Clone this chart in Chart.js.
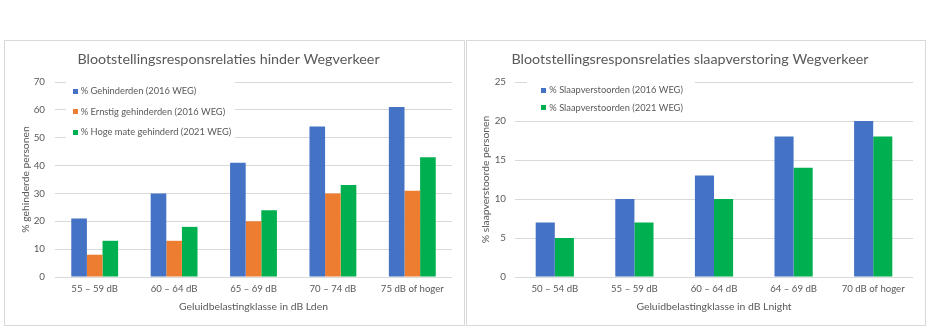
<!DOCTYPE html>
<html><head><meta charset="utf-8">
<script src="https://cdn.jsdelivr.net/npm/chart.js@4.4.0/dist/chart.umd.min.js"></script>
<style>
html,body{margin:0;padding:0;background:#fff;}
.box{position:absolute;border:1px solid #D9D9D9;background:#fff;}
#b1{left:4px;top:40px;width:459px;height:284px;}
#b2{left:466px;top:40px;width:458px;height:284px;}
canvas{display:block;}
</style></head><body>
<div class="box" id="b1"><canvas id="c1" width="459" height="284"></canvas></div>
<div class="box" id="b2"><canvas id="c2" width="458" height="284"></canvas></div>
<script>
// ---- Data ----
const hinderCategories = ['55 – 59 dB', '60 – 64 dB', '65 – 69 dB', '70 – 74 dB', '75 dB of hoger'];
const gehinderden2016 = [21, 30, 41, 54, 61];
const ernstigGehinderden2016 = [8, 13, 20, 30, 31];
const hogeMateGehinderd2021 = [13, 18, 24, 33, 43];
const hinderYMax = 70;
const hinderYStep = 10;

const slaapCategories = ['50 – 54 dB', '55 – 59 dB', '60 – 64 dB', '64 – 69 dB', '70 dB of hoger'];
const slaapverstoorden2016 = [7, 10, 13, 18, 20];
const slaapverstoorden2021 = [5, 7, 10, 14, 18];
const slaapYMax = 25;
const slaapYStep = 5;

const BLUE = '#4472C4', ORANGE = '#ED7D31', GREEN = '#00B050';
const TEXT = '#595959', GRID = '#D9D9D9';
const FONT = 'Lato, "Open Sans", sans-serif';

Chart.defaults.font.family = FONT;
Chart.defaults.color = TEXT;

const insideLegend = {
  id: 'insideLegend',
  afterDatasetsDraw(chart, args, opts) {
    const {ctx, chartArea: ca} = chart;
    ctx.save();
    ctx.fillStyle = '#fff';
    ctx.fillRect(ca.left + opts.boxX, ca.top + opts.boxY, opts.boxW, opts.boxH);
    ctx.font = opts.fontSize + 'px ' + FONT;
    ctx.textBaseline = 'middle';
    ctx.textAlign = 'left';
    chart.data.datasets.forEach((ds, i) => {
      const y = ca.top + opts.firstY + i * opts.step;
      ctx.fillStyle = ds.backgroundColor;
      ctx.fillRect(Math.round(ca.left + opts.markerX), Math.round(y - 2.5), 5, 5);
      ctx.fillStyle = TEXT;
      ctx.fillText(ds.label, ca.left + opts.textX, y);
    });
    ctx.restore();
  }
};

function makeChart(id, cfg) {
  return new Chart(document.getElementById(id), {
    type: 'bar',
    data: {
      labels: cfg.labels,
      datasets: cfg.datasets.map(d => ({
        label: d.label, data: d.data, backgroundColor: d.color, borderWidth: 0,
        categoryPercentage: cfg.catPct, barPercentage: 1
      }))
    },
    options: {
      responsive: false,
      animation: false,
      layout: {padding: {left: 0, right: 12, top: 0, bottom: 0}},
      plugins: {
        legend: {display: false},
        tooltip: {enabled: false},
        title: {
          display: true, text: cfg.title, color: TEXT,
          font: {size: 14.3, weight: 'normal', lineHeight: 1.26},
          padding: {top: 9, bottom: 14}
        },
        insideLegend: cfg.legend
      },
      scales: {
        x: {
          grid: {display: false, drawTicks: false},
          border: {display: false},
          ticks: {color: TEXT, font: {size: 9.6}, padding: 6.5, maxRotation: 0, autoSkip: false},
          title: {display: true, text: cfg.xTitle, color: TEXT, font: {size: 10.4}, padding: {top: 0, bottom: 12.5}},
          afterFit(s) { s.height = 48; }
        },
        y: {
          min: 0, max: cfg.yMax,
          grid: {color: GRID, lineWidth: 1, drawTicks: false},
          border: {display: false},
          ticks: {stepSize: cfg.yStep, color: TEXT, font: {size: 9.8}, padding: cfg.yTickPad},
          title: {display: true, text: cfg.yTitle, color: TEXT, font: {size: 10.3}, padding: {top: cfg.yTitlePad, bottom: 0}},
          afterFit(s) { s.width = cfg.yWidth; }
        }
      }
    },
    plugins: [insideLegend]
  });
}

makeChart('c1', {
  title: 'Blootstellingsresponsrelaties hinder Wegverkeer',
  labels: hinderCategories,
  datasets: [
    {label: '% Gehinderden (2016 WEG)', data: gehinderden2016, color: BLUE},
    {label: '% Ernstig gehinderden (2016 WEG)', data: ernstigGehinderden2016, color: ORANGE},
    {label: '% Hoge mate gehinderd (2021 WEG)', data: hogeMateGehinderd2021, color: GREEN}
  ],
  catPct: 0.59,
  yMax: hinderYMax, yStep: hinderYStep,
  xTitle: 'Geluidbelastingklasse in dB Lden',
  yTitle: '% gehinderde personen',
  yWidth: 50, yTickPad: 10, yTitlePad: 14.5,
  legend: {boxX: 11, boxY: -7, boxW: 169, boxH: 67, markerX: 17.7, textX: 25.7, firstY: 9, step: 20.5, fontSize: 9.3}
});

makeChart('c2', {
  title: 'Blootstellingsresponsrelaties slaapverstoring Wegverkeer',
  labels: slaapCategories,
  datasets: [
    {label: '% Slaapverstoorden (2016 WEG)', data: slaapverstoorden2016, color: BLUE},
    {label: '% Slaapverstoorden (2021 WEG)', data: slaapverstoorden2021, color: GREEN}
  ],
  catPct: 0.48,
  yMax: slaapYMax, yStep: slaapYStep,
  xTitle: 'Geluidbelastingklasse in dB Lnight',
  yTitle: '% slaapverstoorde personen',
  yWidth: 48, yTickPad: 9, yTitlePad: 12,
  legend: {boxX: 12, boxY: -7, boxW: 168, boxH: 40, markerX: 26, textX: 34.3, firstY: 8.3, step: 17.3, fontSize: 9.3}
});
</script>
</body></html>
